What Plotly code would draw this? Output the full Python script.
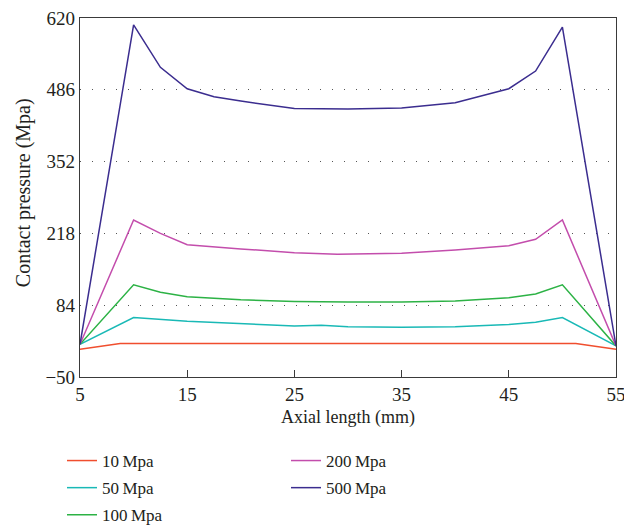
import plotly.graph_objects as go

# Axial positions (mm) and contact pressure (MPa) for each load case
x_10 = [5, 8.75, 51.25, 55]
p_10 = [2, 12.5, 12.5, 2]

x_50 = [5, 10, 15, 20, 25, 27.5, 30, 35, 40, 45, 47.5, 50, 55]
p_50 = [11, 61, 54, 49, 45, 46.5, 44, 43, 44, 48, 52, 61, 8]

x_100 = [5, 10, 12.5, 15, 20, 25, 30, 35, 40, 45, 47.5, 50, 55]
p_100 = [11, 122, 108, 100, 94, 91, 90, 90, 92, 98, 105, 122, 8]

x_200 = [5, 10, 12.5, 15, 20, 25, 29, 35, 40, 45, 47.5, 50, 55]
p_200 = [11, 243, 218, 197, 189, 182, 179, 181, 187, 195, 207, 243, 8]

x_500 = [5, 10, 12.5, 15, 17.5, 20, 25, 30, 35, 40, 42.5, 45, 47.5, 50, 55]
p_500 = [11, 607, 528, 488, 473, 465, 451, 450, 452, 462, 475, 488, 521, 603, 8]

labels = ["10\u2009Mpa", "50\u2009Mpa", "100\u2009Mpa", "200\u2009Mpa", "500\u2009Mpa"]
colors = ["#f04e2e", "#19b9b6", "#2cb245", "#c34dac", "#3b2d8f"]

y_ticks = [-50, 84, 218, 352, 486, 620]
y_tick_text = ["\u221250", "84", "218", "352", "486", "620"]
x_ticks = [5, 15, 25, 35, 45, 55]

FONT = "Liberation Serif"
TXT = "#231f20"

series = [
    (x_10, p_10, "legend"),
    (x_50, p_50, "legend"),
    (x_100, p_100, "legend"),
    (x_200, p_200, "legend2"),
    (x_500, p_500, "legend2"),
]

fig = go.Figure()
for (xs, ys, lg), name, c in zip(series, labels, colors):
    fig.add_trace(go.Scatter(
        x=xs, y=ys, mode="lines", name=name,
        line=dict(color=c, width=1.5),
        legend=lg, legendgroup=name,
    ))

legend_style = dict(
    orientation="v", yanchor="top", xanchor="left",
    xref="container", yref="container",
    font=dict(family=FONT, size=17, color=TXT),
    bgcolor="rgba(0,0,0,0)", itemwidth=30, tracegroupgap=2,
)

fig.update_layout(
    width=624, height=529, autosize=False,
    margin=dict(l=80, r=8, t=18, b=152, autoexpand=False),
    plot_bgcolor="white", paper_bgcolor="white",
    font=dict(family=FONT, size=17, color=TXT),
    legend=dict(x=62 / 624, y=1 - 443 / 529, **legend_style),
    legend2=dict(x=286 / 624, y=1 - 443 / 529, **legend_style),
    xaxis=dict(
        range=[5, 55], tickvals=x_ticks,
        showline=True, linecolor="#3a3a3a", linewidth=1.2, mirror=True,
        ticks="inside", ticklen=7, tickcolor="#3a3a3a", tickwidth=1,
        showgrid=False, zeroline=False, ticklabeloverflow="allow",
        title=dict(text="Axial length (mm)", font=dict(family=FONT, size=18, color=TXT), standoff=6),
        tickfont=dict(family=FONT, size=19, color=TXT),
    ),
    yaxis=dict(
        range=[-50, 620], tickvals=y_ticks, ticktext=y_tick_text,
        showline=True, linecolor="#3a3a3a", linewidth=1.2, mirror=True,
        ticks="", showgrid=True, gridcolor="#555555", gridwidth=1,
        griddash="1px,11px", zeroline=False,
        tickfont=dict(family=FONT, size=19, color=TXT),
    ),
    annotations=[dict(
        text="Contact pressure (Mpa)", textangle=-90,
        xref="paper", yref="paper", x=(23 - 80) / 536, y=0.512,
        xanchor="center", yanchor="middle", showarrow=False,
        font=dict(family=FONT, size=20, color=TXT),
    )],
)

fig.write_html("out.html")
